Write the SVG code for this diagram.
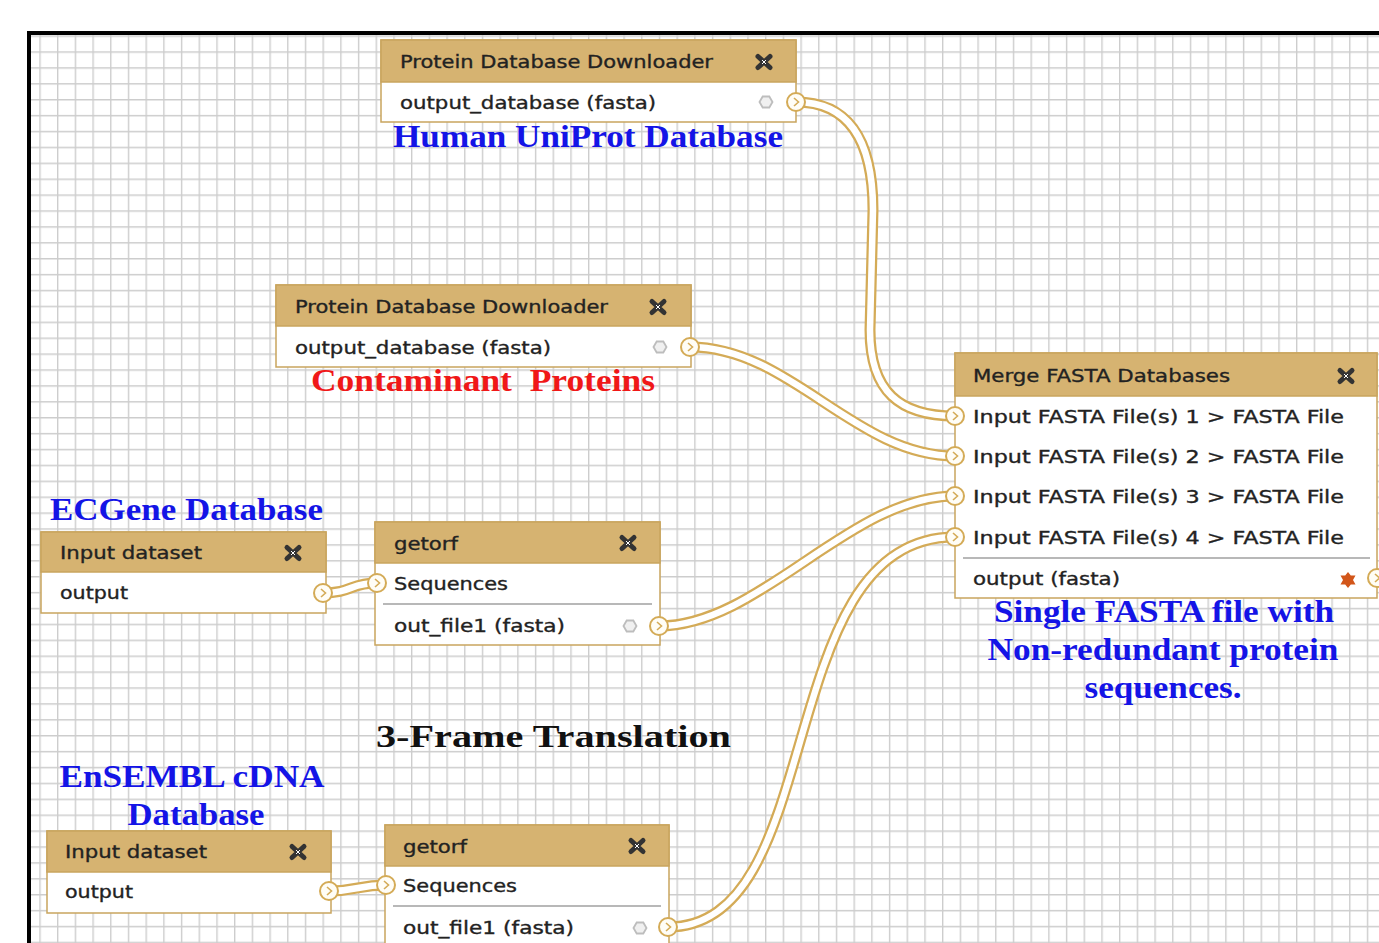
<svg xmlns="http://www.w3.org/2000/svg" xmlns:xlink="http://www.w3.org/1999/xlink" width="1379" height="943" viewBox="0 0 1379 943">
<style>
.hdr{fill:#d6b371;stroke:#c9a55e;stroke-width:1.5}
.body{fill:#ffffff;stroke:#c9a55e;stroke-width:1.5}
.nt{font-family:"DejaVu Sans",Verdana,sans-serif;font-size:18px;fill:#222;stroke:#222;stroke-width:0.35}
.sep{stroke:#b8b8b8;stroke-width:2}
.lbl{font-family:"Liberation Serif","Times New Roman",serif;font-weight:bold;font-size:31px}
.blue{fill:#1414e6}
.red{fill:#f01818}
.black{fill:#111}
.outer{fill:none;stroke:#d4ab57;stroke-width:11}
.inner{fill:none;stroke:#ffffff;stroke-width:6.5}
</style>
<defs>
<pattern id="grid" x="39.3" y="51.3" width="17.7" height="15.9" patternUnits="userSpaceOnUse">
<path d="M0.7,0 V15.9 M0,0.7 H17.7" stroke="#cdcdcd" stroke-width="1.4" fill="none"/>
</pattern>
<g id="close">
<path d="M-6,-5.5 L6,5.5 M6,-5.5 L-6,5.5" stroke="#333" stroke-width="5" stroke-linecap="round" fill="none"/>
<path d="M-2,-2 L2,2 M2,-2 L-2,2" stroke="#fff" stroke-width="1" fill="none"/>
</g>
<g id="term">
<circle r="9" fill="#fffdf6" stroke="#d4ab57" stroke-width="2"/>
<path d="M-2,-4 L2.5,0 L-2,4" fill="none" stroke="#d4ab57" stroke-width="1.6"/>
</g>
<g id="hex">
<polygon points="-6.5,0 -3.3,-5.5 3.3,-5.5 6.5,0 3.3,5.5 -3.3,5.5" fill="#f0f0f0" stroke="#bdbdbd" stroke-width="1.8"/>
</g>
<g id="star">
<polygon points="0,-8 2.8,-4.5 7.5,-4.5 5,0 7.5,4.5 2.8,4.5 0,8 -2.8,4.5 -7.5,4.5 -5,0 -7.5,-4.5 -2.8,-4.5" fill="#d2561a"/>
</g>
<path id="c1" d="M796,102 C845,102 873,135 873,210 L870,330 C870,392 900,416 955,416"/>
<path id="c2" d="M690,347 C790,347 855,456 955,456"/>
<path id="c3" d="M659,626 C760,626 850,496 955,496"/>
<path id="c4" d="M668,927 C830,927 770,537 955,537"/>
<path id="c5" d="M323,593 C352,593 350,583 377,583"/>
<path id="c6" d="M329,891 C358,891 358,885 386,885"/>
</defs>

<rect x="0" y="0" width="1379" height="943" fill="#ffffff"/>
<rect x="29" y="33" width="1350" height="910" fill="url(#grid)"/>
<path d="M29,943 V33 H1379" fill="none" stroke="#000" stroke-width="4"/>

<g id="connectors">
<use xlink:href="#c1" class="outer"/><use xlink:href="#c1" class="inner"/>
<use xlink:href="#c2" class="outer"/><use xlink:href="#c2" class="inner"/>
<use xlink:href="#c3" class="outer"/><use xlink:href="#c3" class="inner"/>
<use xlink:href="#c4" class="outer"/><use xlink:href="#c4" class="inner"/>
<use xlink:href="#c5" class="outer"/><use xlink:href="#c5" class="inner"/>
<use xlink:href="#c6" class="outer"/><use xlink:href="#c6" class="inner"/>
</g>

<g id="node-pdd1">
<rect class="body" x="381" y="40" width="415" height="82"/>
<rect class="hdr" x="381" y="40" width="415" height="42"/>
<text class="nt" x="400" y="68" textLength="313" lengthAdjust="spacingAndGlyphs">Protein Database Downloader</text>
<use xlink:href="#close" x="764" y="62"/>
<text class="nt" x="400" y="109" textLength="256" lengthAdjust="spacingAndGlyphs">output_database (fasta)</text>
<use xlink:href="#hex" x="766" y="102"/>
<use xlink:href="#term" x="796" y="102"/>
</g>
<text id="lbl-human" class="lbl blue" x="393" y="147" textLength="390" lengthAdjust="spacingAndGlyphs">Human UniProt Database</text>

<g id="node-pdd2">
<rect class="body" x="276" y="285" width="415" height="82"/>
<rect class="hdr" x="276" y="285" width="415" height="41"/>
<text class="nt" x="295" y="313" textLength="313" lengthAdjust="spacingAndGlyphs">Protein Database Downloader</text>
<use xlink:href="#close" x="658" y="307"/>
<text class="nt" x="295" y="354" textLength="256" lengthAdjust="spacingAndGlyphs">output_database (fasta)</text>
<use xlink:href="#hex" x="660" y="347"/>
<use xlink:href="#term" x="690" y="347"/>
</g>
<text id="lbl-cont" class="lbl red" x="311" y="391" xml:space="preserve" textLength="344" lengthAdjust="spacingAndGlyphs">Contaminant  Proteins</text>

<g id="node-merge">
<rect class="body" x="955" y="353" width="422" height="245"/>
<rect class="hdr" x="955" y="353" width="422" height="43"/>
<text class="nt" x="973" y="382" textLength="257" lengthAdjust="spacingAndGlyphs">Merge FASTA Databases</text>
<use xlink:href="#close" x="1346" y="376"/>
<text class="nt" x="973" y="423" textLength="371" lengthAdjust="spacingAndGlyphs">Input FASTA File(s) 1 &gt; FASTA File</text>
<text class="nt" x="973" y="463" textLength="371" lengthAdjust="spacingAndGlyphs">Input FASTA File(s) 2 &gt; FASTA File</text>
<text class="nt" x="973" y="503" textLength="371" lengthAdjust="spacingAndGlyphs">Input FASTA File(s) 3 &gt; FASTA File</text>
<text class="nt" x="973" y="544" textLength="371" lengthAdjust="spacingAndGlyphs">Input FASTA File(s) 4 &gt; FASTA File</text>
<line class="sep" x1="963" y1="558" x2="1370" y2="558"/>
<text class="nt" x="973" y="585" textLength="147" lengthAdjust="spacingAndGlyphs">output (fasta)</text>
<use xlink:href="#star" x="1348" y="580"/>
<use xlink:href="#term" x="955" y="416"/>
<use xlink:href="#term" x="955" y="456"/>
<use xlink:href="#term" x="955" y="496"/>
<use xlink:href="#term" x="955" y="537"/>
<use xlink:href="#term" x="1377" y="578"/>
</g>
<g id="lbl-single" class="lbl blue" text-anchor="middle">
<text x="1164" y="622" textLength="340" lengthAdjust="spacingAndGlyphs">Single FASTA file with</text>
<text x="1163" y="660" textLength="351" lengthAdjust="spacingAndGlyphs">Non-redundant protein</text>
<text x="1163" y="698" textLength="157" lengthAdjust="spacingAndGlyphs">sequences.</text>
</g>

<text id="lbl-ecgene" class="lbl blue" x="50" y="520" textLength="273" lengthAdjust="spacingAndGlyphs">ECGene Database</text>
<g id="node-input1">
<rect class="body" x="41" y="532" width="285" height="81"/>
<rect class="hdr" x="41" y="532" width="285" height="40"/>
<text class="nt" x="60" y="559" textLength="142" lengthAdjust="spacingAndGlyphs">Input dataset</text>
<use xlink:href="#close" x="293" y="553"/>
<text class="nt" x="60" y="599" textLength="68" lengthAdjust="spacingAndGlyphs">output</text>
<use xlink:href="#term" x="323" y="593"/>
</g>

<g id="node-getorf1">
<rect class="body" x="375" y="522" width="285" height="123"/>
<rect class="hdr" x="375" y="522" width="285" height="41"/>
<text class="nt" x="394" y="550" textLength="64" lengthAdjust="spacingAndGlyphs">getorf</text>
<use xlink:href="#close" x="628" y="543"/>
<text class="nt" x="394" y="590" textLength="114" lengthAdjust="spacingAndGlyphs">Sequences</text>
<line class="sep" x1="383" y1="604" x2="652" y2="604"/>
<text class="nt" x="394" y="632" textLength="171" lengthAdjust="spacingAndGlyphs">out_file1 (fasta)</text>
<use xlink:href="#hex" x="630" y="626"/>
<use xlink:href="#term" x="377" y="583"/>
<use xlink:href="#term" x="659" y="626"/>
</g>

<text id="lbl-3frame" class="lbl black" x="376" y="747" font-size="34" textLength="355" lengthAdjust="spacingAndGlyphs">3-Frame Translation</text>

<g id="lbl-ensembl" class="lbl blue" text-anchor="middle">
<text x="192" y="787" textLength="265" lengthAdjust="spacingAndGlyphs">EnSEMBL cDNA</text>
<text x="196" y="825" textLength="137" lengthAdjust="spacingAndGlyphs">Database</text>
</g>

<g id="node-input2">
<rect class="body" x="47" y="831" width="284" height="82"/>
<rect class="hdr" x="47" y="831" width="284" height="41"/>
<text class="nt" x="65" y="858" textLength="142" lengthAdjust="spacingAndGlyphs">Input dataset</text>
<use xlink:href="#close" x="298" y="852"/>
<text class="nt" x="65" y="898" textLength="68" lengthAdjust="spacingAndGlyphs">output</text>
<use xlink:href="#term" x="329" y="891"/>
</g>

<g id="node-getorf2">
<rect class="body" x="385" y="825" width="284" height="130"/>
<rect class="hdr" x="385" y="825" width="284" height="41"/>
<text class="nt" x="403" y="853" textLength="64" lengthAdjust="spacingAndGlyphs">getorf</text>
<use xlink:href="#close" x="637" y="846"/>
<text class="nt" x="403" y="892" textLength="114" lengthAdjust="spacingAndGlyphs">Sequences</text>
<line class="sep" x1="393" y1="906" x2="661" y2="906"/>
<text class="nt" x="403" y="934" textLength="171" lengthAdjust="spacingAndGlyphs">out_file1 (fasta)</text>
<use xlink:href="#hex" x="640" y="928"/>
<use xlink:href="#term" x="386" y="885"/>
<use xlink:href="#term" x="668" y="927"/>
</g>
</svg>
